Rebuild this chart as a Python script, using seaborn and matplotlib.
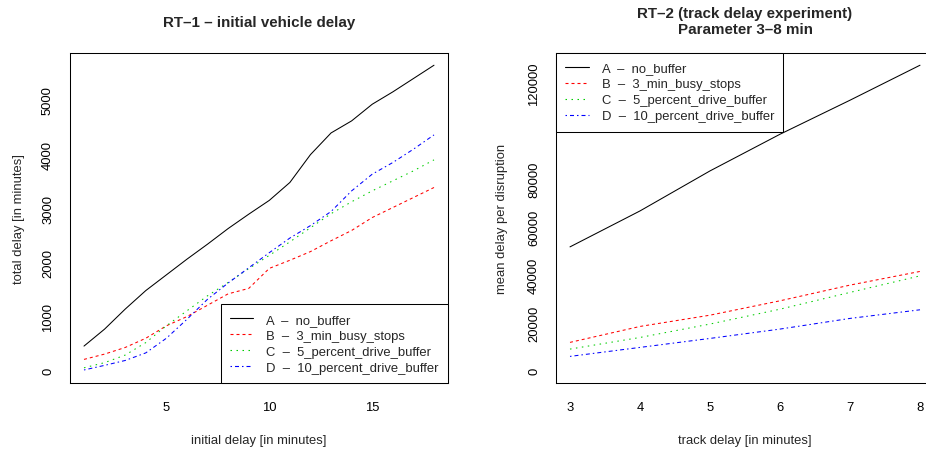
import numpy as np
import pandas as pd
import matplotlib
matplotlib.use("Agg")
import matplotlib.pyplot as plt
from matplotlib.lines import Line2D
import seaborn as sns

# --- values ---
strategies = ["A", "B", "C", "D"]
strategy_names = ["no_buffer", "3_min_busy_stops",
                  "5_percent_drive_buffer", "10_percent_drive_buffer"]

# RT-1: total delay vs initial delay
initial_delay = list(range(1, 19))
rt1_a = [456, 769, 1138, 1480, 1770, 2060, 2337, 2625, 2890,
         3145, 3476, 3990, 4390, 4613, 4920, 5148, 5394, 5640]
rt1_b = [210, 308, 430, 600, 830, 1000, 1210, 1420, 1520,
         1890, 2040, 2200, 2400, 2590, 2829, 3013, 3198, 3383]
rt1_c = [55, 150, 290, 520, 830, 1107, 1384, 1630, 1885,
         2130, 2380, 2640, 2900, 3120, 3321, 3506, 3690, 3893]
rt1_d = [15, 100, 190, 330, 600, 950, 1320, 1620, 1900,
         2180, 2450, 2680, 2940, 3321, 3629, 3844, 4090, 4354]

# RT-2: mean delay per disruption vs track delay
track_delay = [3, 4, 5, 6, 7, 8]
rt2_a = [51700, 66700, 83400, 98700, 112900, 127500]
rt2_b = [11850, 18500, 23200, 29200, 35750, 41450]
rt2_c = [9050, 13900, 19500, 25700, 32700, 39600]
rt2_d = [6000, 9750, 13500, 17400, 21850, 25450]

# --- styling (R base graphics look) ---
colors = {"A": "black", "B": "#FF0000", "C": "#00CD00", "D": "#0000FF"}
PX = 0.72  # one pixel in points at 100 dpi
dashes = {"A": "", "B": (3 * PX, 3 * PX), "C": (1.5 * PX, 4.5 * PX),
          "D": (1.5 * PX, 3 * PX, 4 * PX, 3 * PX)}

sns.set_theme(style="white")
plt.rcParams["font.family"] = ["Liberation Sans", "DejaVu Sans"]
plt.rcParams["lines.scale_dashes"] = False
plt.rcParams["axes.edgecolor"] = "black"
plt.rcParams["axes.linewidth"] = 0.75

FS = 9.4
TITLE_FS = 10.9


def long_form(x, series):
    rows = []
    for key, vals in zip(strategies, series):
        for xi, yi in zip(x, vals):
            rows.append({"x": xi, "y": yi, "strategy": key})
    return pd.DataFrame(rows)


def style_axes(ax):
    for sp in ax.spines.values():
        sp.set_visible(True)
        sp.set_color("black")
        sp.set_linewidth(0.75)
    ax.tick_params(axis="both", direction="out", length=6, width=0.75,
                   color="black", labelsize=FS, labelcolor="black")
    ax.tick_params(axis="x", pad=7)
    ax.tick_params(axis="y", pad=5.5, labelrotation=90)
    for lab in ax.get_yticklabels():
        lab.set_va("center")
    ax.grid(False)


def add_legend(ax, loc):
    handles = [Line2D([], [], color=colors[k], lw=0.8,
                      linestyle=(0, dashes[k]) if dashes[k] else "-")
               for k in strategies]
    labels = [f"{k}  \u2013  {n}" for k, n in zip(strategies, strategy_names)]
    leg = ax.legend(handles, labels, loc=loc, borderaxespad=0, fontsize=FS,
                    frameon=True, fancybox=False, framealpha=1,
                    edgecolor="black", borderpad=0.7, labelspacing=0.3,
                    handlelength=1.8, handletextpad=1.0)
    leg.get_frame().set_linewidth(0.75)


W, H = 926, 452
fig = plt.figure(figsize=(W / 100, H / 100), dpi=100)
ax1 = fig.add_axes([70 / W, 68 / H, 378 / W, 330 / H])
ax2 = fig.add_axes([556 / W, 68 / H, 378 / W, 330 / H])

# --- RT-1 ---
df1 = long_form(initial_delay, [rt1_a, rt1_b, rt1_c, rt1_d])
sns.lineplot(data=df1, x="x", y="y", hue="strategy", style="strategy",
             palette=colors, dashes=dashes, linewidth=0.75, legend=False, ax=ax1)
ax1.set_xlim(1 - 0.04 * 17, 18 + 0.04 * 17)
ax1.set_ylim(-0.04 * 5640, 5640 * 1.04)
ax1.set_xticks([5, 10, 15])
ax1.set_yticks([0, 1000, 2000, 3000, 4000, 5000])
style_axes(ax1)
ax1.set_xlabel("initial delay [in minutes]", fontsize=FS)
ax1.set_ylabel("total delay [in minutes]", fontsize=FS)
ax1.xaxis.set_label_coords(0.5, (384 - 441) / 330)
ax1.xaxis.label.set_va("center")
ax1.yaxis.set_label_coords((19 - 70) / 378, 0.5)
ax1.yaxis.label.set_va("center")
ax1.set_title("RT\u20131 \u2013 initial vehicle delay", fontsize=TITLE_FS,
              fontweight="bold", y=(384 - 23) / 330, va="center", pad=0)
add_legend(ax1, "lower right")

# --- RT-2 ---
df2 = long_form(track_delay, [rt2_a, rt2_b, rt2_c, rt2_d])
sns.lineplot(data=df2, x="x", y="y", hue="strategy", style="strategy",
             palette=colors, dashes=dashes, linewidth=0.75, legend=False, ax=ax2)
ax2.set_xlim(3 - 0.2, 8 + 0.2)
ax2.set_ylim(-0.04 * 127500, 127500 * 1.04)
ax2.set_xticks(track_delay)
ax2.set_yticks([0, 20000, 40000, 60000, 80000, 100000, 120000])
ax2.set_yticklabels(["0", "20000", "40000", "60000", "80000", "", "120000"])
style_axes(ax2)
ax2.set_xlabel("track delay [in minutes]", fontsize=FS)
ax2.set_ylabel("mean delay per disruption", fontsize=FS)
ax2.xaxis.set_label_coords(0.5, (384 - 441) / 330)
ax2.xaxis.label.set_va("center")
ax2.yaxis.set_label_coords((502.5 - 556) / 378, 0.5)
ax2.yaxis.label.set_va("center")
ax2.set_title("RT\u20132 (track delay experiment)\nParameter 3\u20138 min",
              fontsize=TITLE_FS, fontweight="bold", y=(384 - 22) / 330,
              va="center", linespacing=1.25, pad=0)
add_legend(ax2, "upper left")

fig.savefig("out.png", dpi=100)
